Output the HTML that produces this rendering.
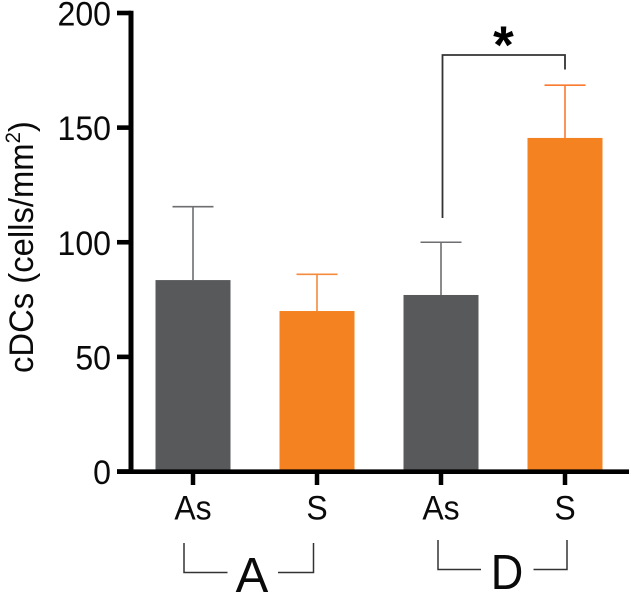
<!DOCTYPE html>
<html>
<head>
<meta charset="utf-8">
<style>
html,body{margin:0;padding:0;background:#fff;width:631px;height:593px;overflow:hidden}
svg{display:block;font-family:"Liberation Sans",Arial,sans-serif}
</style>
</head>
<body>
<svg id="chart" width="631" height="593" viewBox="0 0 631 593" xmlns="http://www.w3.org/2000/svg"></svg>
<script>
var categories = ['As', 'S', 'As', 'S'];
var barValues = [83.5, 70, 77, 145.5];
var errorTops = [115.5, 86, 100, 168.5];
var barColors = ['#58595b', '#f58220', '#58595b', '#f58220'];
var errorColors = ['#6d6e70', '#f58a3c', '#6d6e70', '#f97a2e'];
var yTicks = [0, 50, 100, 150, 200];

var svg = document.getElementById('chart');
function yScale(v) { return 471.5 - v * (458.5 / 200); }
function xScale(i) { return 193 + i * 124; }
function add(tag, attrs, parent) {
  var el = document.createElementNS('http://www.w3.org/2000/svg', tag);
  for (var k in attrs) el.setAttribute(k, attrs[k]);
  (parent || svg).appendChild(el);
  return el;
}
var bw = 75;

categories.forEach(function (c, i) {
  var cx = xScale(i);
  var g = add('g', {});
  
  
  var stem = add('line', {x1: cx, x2: cx, y1: yScale(barValues[i]), y2: yScale(errorTops[i]), stroke: errorColors[i], 'stroke-width': 1.6}, g);
  
  
  var cap = add('line', {x1: cx - 20.5, x2: cx + 20.5, y1: yScale(errorTops[i]), y2: yScale(errorTops[i]), stroke: errorColors[i], 'stroke-width': 1.6}, g);
  
  
  var bar = add('rect', {x: cx - bw / 2, y: yScale(barValues[i]), width: bw, height: yScale(0) - yScale(barValues[i]), fill: barColors[i]}, g);
  
  
  var tick = add('line', {x1: cx, x2: cx, y1: 471, y2: 485, stroke: '#000', 'stroke-width': 4.5}, g);
  
  
  var lab = add('text', {transform: 'translate(' + cx + ',519.5) scale(0.94,1)', 'text-anchor': 'middle', 'font-size': 34, fill: '#0a0a0a'}, g);
  
  
  lab.textContent = c;
});

var yAxis = add('line', {x1: 131, x2: 131, y1: 10.8, y2: 474, stroke: '#000', 'stroke-width': 5});


var xAxis = add('line', {x1: 117, x2: 629, y1: 471.7, y2: 471.7, stroke: '#000', 'stroke-width': 4.6});



yTicks.forEach(function (t) {
  var y = yScale(t);
  var tk = add('line', {x1: 117, x2: 131, y1: y, y2: y, stroke: '#000', 'stroke-width': 4.6});
  
  
  var lb = add('text', {transform: 'translate(111,' + (y + 12.5) + ') scale(0.93,1)', 'text-anchor': 'end', 'font-size': 34.5, fill: '#0a0a0a'});
  
  
  lb.textContent = t;
});

var yTitle = add('text', {transform: 'translate(33,373) rotate(-90) scale(0.965,1)', 'font-size': 34, fill: '#0a0a0a'});


yTitle.textContent = 'cDCs (cells/mm';
var sup = add('tspan', {'font-size': 21, dy: -13}, yTitle);
sup.textContent = '2';
var close = add('tspan', {'font-size': 34, dy: 13}, yTitle);
close.textContent = ')';

var sigBracket = add('path', {d: 'M442.5 218V55H565V69.5', fill: 'none', stroke: '#333', 'stroke-width': 1.8});


var star = add('text', {x: 503.5, y: 63, 'text-anchor': 'middle', 'font-size': 53, 'font-weight': 'bold', fill: '#000'});


star.textContent = '*';

var brA1 = add('path', {d: 'M184 543V572.5H227.5', fill: 'none', stroke: '#333', 'stroke-width': 1.5});


var brA2 = add('path', {d: 'M278 572.5H313.5V543', fill: 'none', stroke: '#333', 'stroke-width': 1.5});


var brD1 = add('path', {d: 'M438 540V569.5H481', fill: 'none', stroke: '#333', 'stroke-width': 1.5});


var brD2 = add('path', {d: 'M533.5 569.5H567V540', fill: 'none', stroke: '#333', 'stroke-width': 1.5});


var gA = add('text', {x: 252, y: 592, 'text-anchor': 'middle', 'font-size': 49, fill: '#0a0a0a'});


gA.textContent = 'A';
var gD = add('text', {transform: 'translate(507,589) scale(0.92,1)', 'text-anchor': 'middle', 'font-size': 49, fill: '#0a0a0a'});


gD.textContent = 'D';
</script>
</body>
</html>
